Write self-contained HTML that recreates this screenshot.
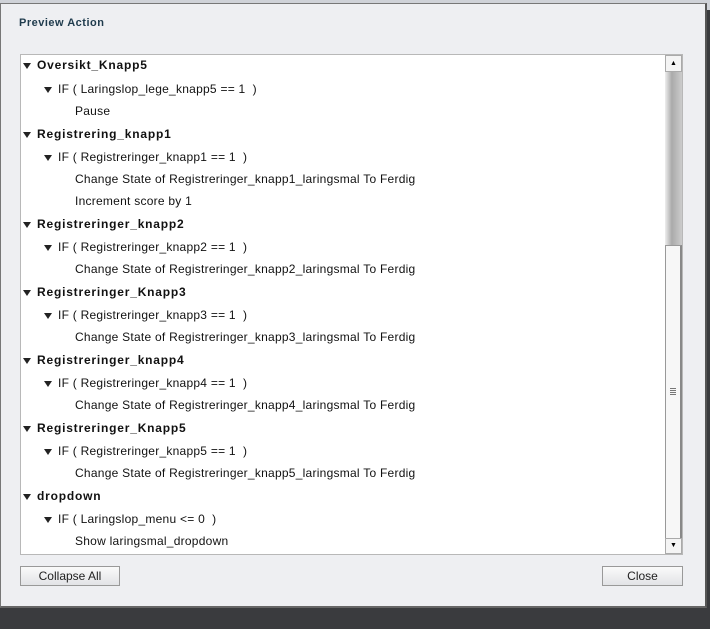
<!DOCTYPE html>
<html><head><style>
body{margin:0;width:710px;height:629px;background:#3a3b3e;position:relative;overflow:hidden;font-family:"Liberation Sans",sans-serif;}
#top{position:absolute;left:0;top:0;width:710px;height:10px;background:#cfd2d8}
#dlg{position:absolute;left:0;top:3px;width:704px;height:602px;background:#eeeff2;border:1px solid #777;border-right:2px solid #555;border-bottom:2px solid #666;}
#title{position:absolute;left:18px;top:13px;font-size:11px;font-weight:bold;color:#1f3b4d;letter-spacing:0.5px}
#list{position:absolute;left:19px;top:50px;width:661px;height:499px;background:#fff;border:1px solid #b8b8b8}
.r{position:absolute;font-size:12px;color:#111;white-space:nowrap;letter-spacing:0.25px}
.h{font-weight:bold;left:16px;letter-spacing:0.8px}
.i{left:37px}
.a{left:54px}
.tri{display:inline-block;width:0;height:0;border-left:4px solid transparent;border-right:4px solid transparent;border-top:6px solid #222;position:absolute;left:-14px;top:5px}
#sb{position:absolute;left:644px;top:0;width:17px;height:499px;background:linear-gradient(90deg,#eee,#aaa 40%,#ccc);}
.btn{position:absolute;height:18px;border:1px solid #999;background:linear-gradient(#fafafa,#e2e3e6);font-size:12px;color:#222;text-align:center;line-height:18px}
</style></head><body>
<div id="top"></div>
<div id="dlg">
<div id="title">Preview Action</div>
<div id="list">
<div class="r h" style="top:3px"><span class="tri"></span>Oversikt_Knapp5</div>
<div class="r i" style="top:27px"><span class="tri"></span>IF ( Laringslop_lege_knapp5 == 1 &nbsp;)</div>
<div class="r a" style="top:49px">Pause</div>
<div class="r h" style="top:72px"><span class="tri"></span>Registrering_knapp1</div>
<div class="r i" style="top:95px"><span class="tri"></span>IF ( Registreringer_knapp1 == 1 &nbsp;)</div>
<div class="r a" style="top:117px">Change State of Registreringer_knapp1_laringsmal To Ferdig</div>
<div class="r a" style="top:139px">Increment score by 1</div>
<div class="r h" style="top:162px"><span class="tri"></span>Registreringer_knapp2</div>
<div class="r i" style="top:185px"><span class="tri"></span>IF ( Registreringer_knapp2 == 1 &nbsp;)</div>
<div class="r a" style="top:207px">Change State of Registreringer_knapp2_laringsmal To Ferdig</div>
<div class="r h" style="top:230px"><span class="tri"></span>Registreringer_Knapp3</div>
<div class="r i" style="top:253px"><span class="tri"></span>IF ( Registreringer_knapp3 == 1 &nbsp;)</div>
<div class="r a" style="top:275px">Change State of Registreringer_knapp3_laringsmal To Ferdig</div>
<div class="r h" style="top:298px"><span class="tri"></span>Registreringer_knapp4</div>
<div class="r i" style="top:321px"><span class="tri"></span>IF ( Registreringer_knapp4 == 1 &nbsp;)</div>
<div class="r a" style="top:343px">Change State of Registreringer_knapp4_laringsmal To Ferdig</div>
<div class="r h" style="top:366px"><span class="tri"></span>Registreringer_Knapp5</div>
<div class="r i" style="top:389px"><span class="tri"></span>IF ( Registreringer_knapp5 == 1 &nbsp;)</div>
<div class="r a" style="top:411px">Change State of Registreringer_knapp5_laringsmal To Ferdig</div>
<div class="r h" style="top:434px"><span class="tri"></span>dropdown</div>
<div class="r i" style="top:457px"><span class="tri"></span>IF ( Laringslop_menu &lt;= 0 &nbsp;)</div>
<div class="r a" style="top:479px">Show laringsmal_dropdown</div>
<div id="sb">
<div style="position:absolute;left:0;top:0;width:15px;height:15px;border:1px solid #aaa;background:#f4f4f4;font-size:7px;text-align:center;line-height:15px">▲</div>
<div style="position:absolute;left:0;top:190px;width:14px;height:292px;border:1px solid #999;border-right:2px solid #888;background:#f7f7f7"><div style="position:absolute;left:4px;top:142px;width:6px;height:7px;background:repeating-linear-gradient(#777 0 1px,transparent 1px 2px)"></div></div>
<div style="position:absolute;left:0;top:483px;width:15px;height:14px;border:1px solid #aaa;background:#f4f4f4;font-size:7px;text-align:center;line-height:14px">▼</div>
</div>
</div>
<div class="btn" style="left:19px;top:562px;width:98px">Collapse All</div>
<div class="btn" style="left:601px;top:562px;width:79px">Close</div>
</div>
</body></html>
